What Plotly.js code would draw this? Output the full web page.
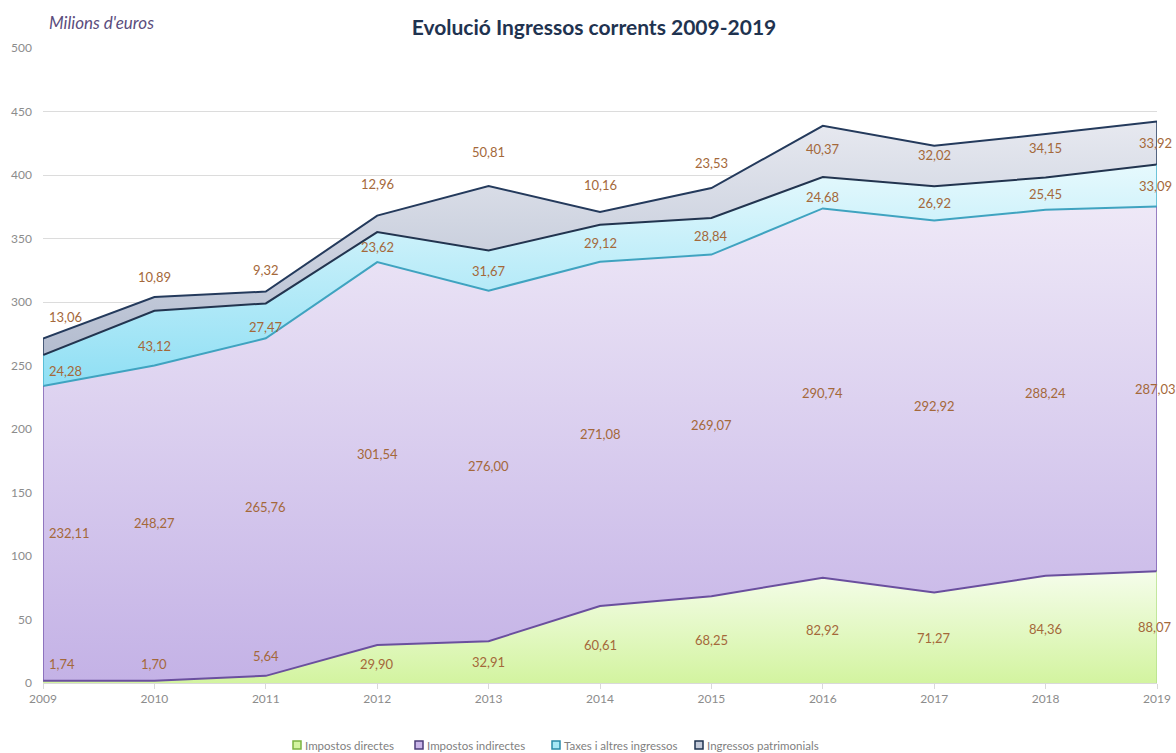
<!DOCTYPE html>
<html>
<head>
<meta charset="utf-8">
<script src="https://cdn.plot.ly/plotly-3.0.1.min.js"></script>
<style>html,body{margin:0;padding:0;background:#fff;}#chart{width:1176px;height:753px;}</style>
</head>
<body>
<div id="chart"></div>
<script>
// ---- data ----
const years = [2009, 2010, 2011, 2012, 2013, 2014, 2015, 2016, 2017, 2018, 2019];
const impostosDirectes   = [1.74, 1.70, 5.64, 29.90, 32.91, 60.61, 68.25, 82.92, 71.27, 84.36, 88.07];
const impostosIndirectes = [232.11, 248.27, 265.76, 301.54, 276.00, 271.08, 269.07, 290.74, 292.92, 288.24, 287.03];
const taxesAltres        = [24.28, 43.12, 27.47, 23.62, 31.67, 29.12, 28.84, 24.68, 26.92, 25.45, 33.09];
const ingressosPatrim    = [13.06, 10.89, 9.32, 12.96, 50.81, 10.16, 23.53, 40.37, 32.02, 34.15, 33.92];
const seriesNames = ['Impostos directes', 'Impostos indirectes', 'Taxes i altres ingressos', 'Ingressos patrimonials'];
const chartTitle = 'Evolució Ingressos corrents 2009-2019';
const unitLabel = "Milions d'euros";

// label nudges (pixels) — placement only
const nudgeDirectes = [18, 18, 23, 0, 0, 0, 0, 0, 0, 0, 0];
const nudgeIndirectes = [0, 0, 0, 0, 0, 0, 0, 0, 0, 0, 0];
const nudgeTaxes = [0, -8, -6, 0, 0, 0, 0, -4, 0, 0, 0];
const nudgePatrim = [30, 27, 28, 40, 66, 33, 40, 2, 11, 8, 0];

// ---- styles ----
const series = [impostosDirectes, impostosIndirectes, taxesAltres, ingressosPatrim];
const nudges = [nudgeDirectes, nudgeIndirectes, nudgeTaxes, nudgePatrim];
const lineColors = ['#6a4f9e', '#3fa3c0', '#22344f', '#243a5c'];
const edgeColors = ['#b4e08a', '#7a5cb0', '#46b2cc', '#243a5c'];
const gradients = [
  [[0, '#d3f4a0'], [1, '#f5fdeb']],
  [[0, '#c4b2e6'], [1, '#eee8f7']],
  [[0, '#8fdff4'], [1, '#e6f9fd']],
  [[0, '#b3bccf'], [1, '#e7e9f0']]
];
const legendFill = ['#d3f4a0', '#c9b5e8', '#a6e8f6', '#c3cad9'];
const legendLine = ['#7cb342', '#4c3d7a', '#2a8aa8', '#1f3350'];
const labelColor = '#a4683a';
const font = 'Lato, "Open Sans", sans-serif';

// plot geometry (pixels)
const W = 1176, H = 753, M = {l: 43, r: 19, t: 48, b: 70};
const plotW = W - M.l - M.r, plotH = H - M.t - M.b;
const pxToPaperX = px => (px - M.l) / plotW;
const pxToPaperY = py => (H - M.b - py) / plotH;

// cumulative sums
const cum = [];
let run = years.map(() => 0);
series.forEach(s => { run = run.map((v, i) => v + s[i]); cum.push(run.slice()); });

const traces = [];
series.forEach((s, k) => {
  const lo = k === 0 ? years.map(() => 0) : cum[k - 1];
  traces.push({
    type: 'scatter', mode: 'lines', x: years, y: s, stackgroup: 'one',
    name: seriesNames[k], showlegend: false, hoverinfo: 'skip',
    line: {color: lineColors[k], width: 2},
    fillgradient: {type: 'vertical', colorscale: gradients[k],
      start: Math.min(...lo), stop: Math.max(...cum[k])}
  });
});

// data labels
const fmt = v => v.toFixed(2).replace('.', ',');
const annotations = [];
const last = years.length - 1;
series.forEach((s, k) => {
  s.forEach((v, i) => {
    const lo = k === 0 ? 0 : cum[k - 1][i];
    annotations.push({
      x: years[i], y: lo + v / 2, xref: 'x', yref: 'y', text: fmt(v), showarrow: false,
      xanchor: i === 0 ? 'left' : 'center', xshift: i === 0 ? 4 : (i === last ? -2 : 0), yshift: nudges[k][i],
      font: {family: font, size: 13, color: labelColor}
    });
  });
});
annotations.push({
  xref: 'paper', yref: 'paper', x: pxToPaperX(47), y: pxToPaperY(22), xanchor: 'left', yanchor: 'middle',
  text: '<i>' + unitLabel + '</i>', showarrow: false,
  font: {family: font, size: 17, color: '#5b4d7d'}
});

// edge lines at first and last year
const shapes = [];
[0, last].forEach(i => {
  series.forEach((s, k) => {
    const lo = k === 0 ? 0 : cum[k - 1][i];
    if (i === 0 && k === 0) return;
    shapes.push({type: 'line', xref: 'x', yref: 'y', x0: years[i], x1: years[i], y0: lo, y1: cum[k][i],
      line: {color: edgeColors[k], width: 1.5}, layer: 'above'});
  });
});

// manual legend (squares + text)
const legendLeft = [293, 415, 552, 695];
const legendY = 745;
seriesNames.forEach((nm, k) => {
  shapes.push({type: 'rect', xref: 'paper', yref: 'paper',
    x0: pxToPaperX(legendLeft[k]), x1: pxToPaperX(legendLeft[k] + 8),
    y0: pxToPaperY(legendY + 4), y1: pxToPaperY(legendY - 4),
    fillcolor: legendFill[k], line: {color: legendLine[k], width: 1.5}, layer: 'above'});
  annotations.push({xref: 'paper', yref: 'paper', x: pxToPaperX(legendLeft[k] + 10), y: pxToPaperY(legendY),
    xanchor: 'left', yanchor: 'middle', showarrow: false, text: nm,
    font: {family: font, size: 11.5, color: '#7f7f7f'}});
});

const layout = {
  width: W, height: H,
  margin: {l: M.l, r: M.r, t: M.t, b: M.b, autoexpand: false},
  paper_bgcolor: '#ffffff', plot_bgcolor: '#ffffff',
  font: {family: font, color: '#8c8c8c'},
  title: {text: '<b>' + chartTitle + '</b>', x: 594 / W, xanchor: 'center', xref: 'container', y: 1 - 28 / H, yanchor: 'middle',
    font: {family: font, size: 21, color: '#1f3350'}},
  xaxis: {
    range: [years[0], years[last]], tickmode: 'array', tickvals: years, ticktext: years.map(String),
    showgrid: false, zeroline: false, showline: true, linecolor: '#d9d9d9', linewidth: 1,
    ticks: 'outside', ticklen: 5, tickcolor: '#d9d9d9', tickfont: {family: font, size: 12, color: '#8c8c8c'}
  },
  yaxis: {
    range: [0, 500], dtick: 50, tick0: 0, showgrid: true, gridcolor: '#dcdcdc', gridwidth: 1,
    zeroline: false, showline: false, ticks: '', ticklabelstandoff: 10,
    tickfont: {family: font, size: 12, color: '#8c8c8c'}
  },
  showlegend: false,
  annotations: annotations,
  shapes: shapes
};

Plotly.newPlot('chart', traces, layout, {displayModeBar: false, staticPlot: true});
</script>
</body>
</html>
